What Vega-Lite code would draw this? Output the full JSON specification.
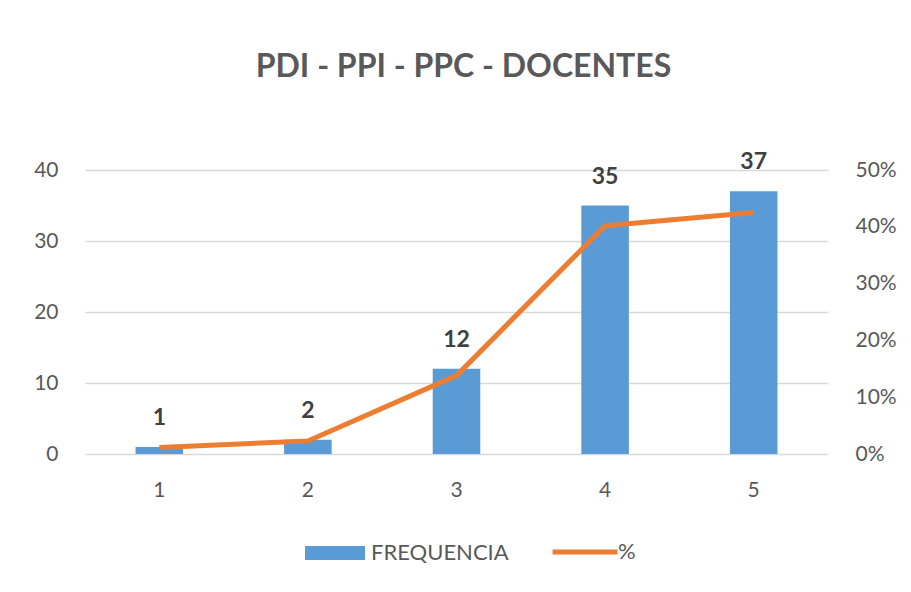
{
  "$schema": "https://vega.github.io/schema/vega-lite/v6.json",
  "autosize": "none",
  "width": 743,
  "height": 284,
  "padding": {"left": 85, "top": 170, "right": 83, "bottom": 138},
  "background": "white",
  "config": {
    "font": "Lato",
    "view": {"stroke": null},
    "axis": {"labelColor": "#595959", "labelFont": "Lato", "labelFontSize": 21, "domain": false, "ticks": false, "title": null}
  },
  "title": {
    "text": "PDI - PPI - PPC - DOCENTES",
    "fontSize": 32,
    "fontWeight": "bold",
    "color": "#595959",
    "font": "Lato",
    "anchor": "middle",
    "offset": 67,
    "dx": 7
  },
  "data": {
    "values": [
      {"x": "1", "freq": 1, "pct": 0.0115, "s1": "FREQUENCIA", "s2": "%"},
      {"x": "2", "freq": 2, "pct": 0.023, "s1": "FREQUENCIA", "s2": "%"},
      {"x": "3", "freq": 12, "pct": 0.138, "s1": "FREQUENCIA", "s2": "%"},
      {"x": "4", "freq": 35, "pct": 0.402, "s1": "FREQUENCIA", "s2": "%"},
      {"x": "5", "freq": 37, "pct": 0.425, "s1": "FREQUENCIA", "s2": "%"}
    ]
  },
  "encoding": {
    "x": {
      "field": "x",
      "type": "ordinal",
      "scale": {"paddingInner": 0.68, "paddingOuter": 0.34},
      "axis": {"labelAngle": 0, "labelPadding": 25, "grid": false}
    }
  },
  "layer": [
    {
      "mark": {"type": "bar"},
      "encoding": {
        "y": {
          "field": "freq",
          "type": "quantitative",
          "scale": {"domain": [0, 40]},
          "axis": {"values": [0, 10, 20, 30, 40], "grid": true, "gridColor": "#d9d9d9", "gridWidth": 1.3, "labelPadding": 27}
        },
        "fill": {
          "field": "s1",
          "type": "nominal",
          "scale": {"range": ["#5B9BD5"]},
          "legend": {
            "title": null,
            "orient": "none",
            "legendX": 220,
            "legendY": 353,
            "symbolType": "M-1,-0.23H1V0.23H-1Z",
            "symbolSize": 3600,
            "symbolStrokeWidth": 0,
            "labelFontSize": 22,
            "labelColor": "#595959",
            "labelOffset": 6
          }
        }
      }
    },
    {
      "mark": {"type": "text", "baseline": "middle", "dy": -29, "fontSize": 23, "fontWeight": "bold", "color": "#404040"},
      "encoding": {
        "y": {"field": "freq", "type": "quantitative", "scale": {"domain": [0, 40]}, "axis": null},
        "text": {"field": "freq", "type": "quantitative"}
      }
    },
    {
      "mark": {"type": "line", "strokeWidth": 5, "strokeCap": "butt", "strokeJoin": "round"},
      "encoding": {
        "y": {
          "field": "pct",
          "type": "quantitative",
          "scale": {"domain": [0, 0.5]},
          "axis": {"orient": "right", "format": ".0%", "values": [0, 0.1, 0.2, 0.3, 0.4, 0.5], "grid": false, "labelPadding": 27, "labelAlign": "left"}
        },
        "stroke": {
          "field": "s2",
          "type": "nominal",
          "scale": {"range": ["#ED7D31"]},
          "legend": {
            "title": null,
            "orient": "none",
            "legendX": 465,
            "legendY": 347,
            "symbolType": "stroke",
            "symbolSize": 4200,
            "symbolStrokeWidth": 5,
            "labelFontSize": 22,
            "labelColor": "#595959",
            "labelOffset": -2
          }
        }
      }
    }
  ],
  "resolve": {"scale": {"y": "independent", "fill": "independent", "stroke": "independent"}}
}
